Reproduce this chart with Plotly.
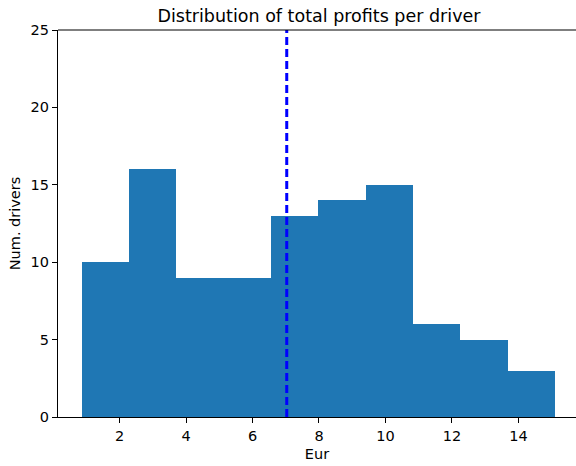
import plotly.graph_objects as go

# Data
bin_start = 0.865
bin_width = 1.4235
counts = [10, 16, 9, 9, 13, 14, 15, 6, 5, 3]
mean_profit = 7.03
x_ticks = [2, 4, 6, 8, 10, 12, 14]
y_ticks = [0, 5, 10, 15, 20, 25]

centers = [bin_start + bin_width * (i + 0.5) for i in range(len(counts))]

W, H = 576, 466

fig = go.Figure()
fig.add_trace(go.Bar(x=centers, y=counts, width=bin_width,
                     marker=dict(color="#1f77b4", line=dict(width=0)),
                     showlegend=False, hoverinfo="x+y"))
fig.add_shape(type="line", xref="x", yref="paper", x0=mean_profit, x1=mean_profit,
              y0=0, y1=1, line=dict(color="#0000ff", width=3, dash="8px,4px"))

font = "DejaVu Sans, Liberation Sans, sans-serif"
fig.update_layout(
    width=W, height=H,
    margin=dict(l=58, r=0, t=30, b=H - 417, autoexpand=False),
    paper_bgcolor="white", plot_bgcolor="white",
    bargap=0,
    font=dict(family=font, size=14.5, color="black"),
    title=dict(text="Distribution of total profits per driver", x=319 / W, xanchor="center",
               xref="container", y=1 - 16 / H, yanchor="middle", yref="container",
               font=dict(size=17.5, family=font, color="black")),
    xaxis=dict(range=[0.15, 15.73], tickvals=x_ticks, ticks="outside", ticklen=5,
               tickcolor="black", showgrid=False, zeroline=False,
               showline=True, linecolor="black", linewidth=1.2, mirror=False,
               title=dict(text="Eur", font=dict(size=14.5), standoff=6),
               tickfont=dict(size=14.5)),
    yaxis=dict(range=[0, 25], tickvals=y_ticks, ticks="outside", ticklen=5,
               tickcolor="black", showgrid=False, zeroline=False,
               showline=True, linecolor="black", linewidth=1.2,
               title=dict(text="Num. drivers", font=dict(size=14.5), standoff=6),
               tickfont=dict(size=14.5)),
)
# top spine
fig.add_shape(type="line", xref="paper", yref="paper", x0=0, x1=1, y0=1, y1=1,
              line=dict(color="black", width=1.2))

fig.write_html("out.html", config={"displayModeBar": False},
               post_script="document.body.style.margin='0';document.body.style.overflow='hidden';")
